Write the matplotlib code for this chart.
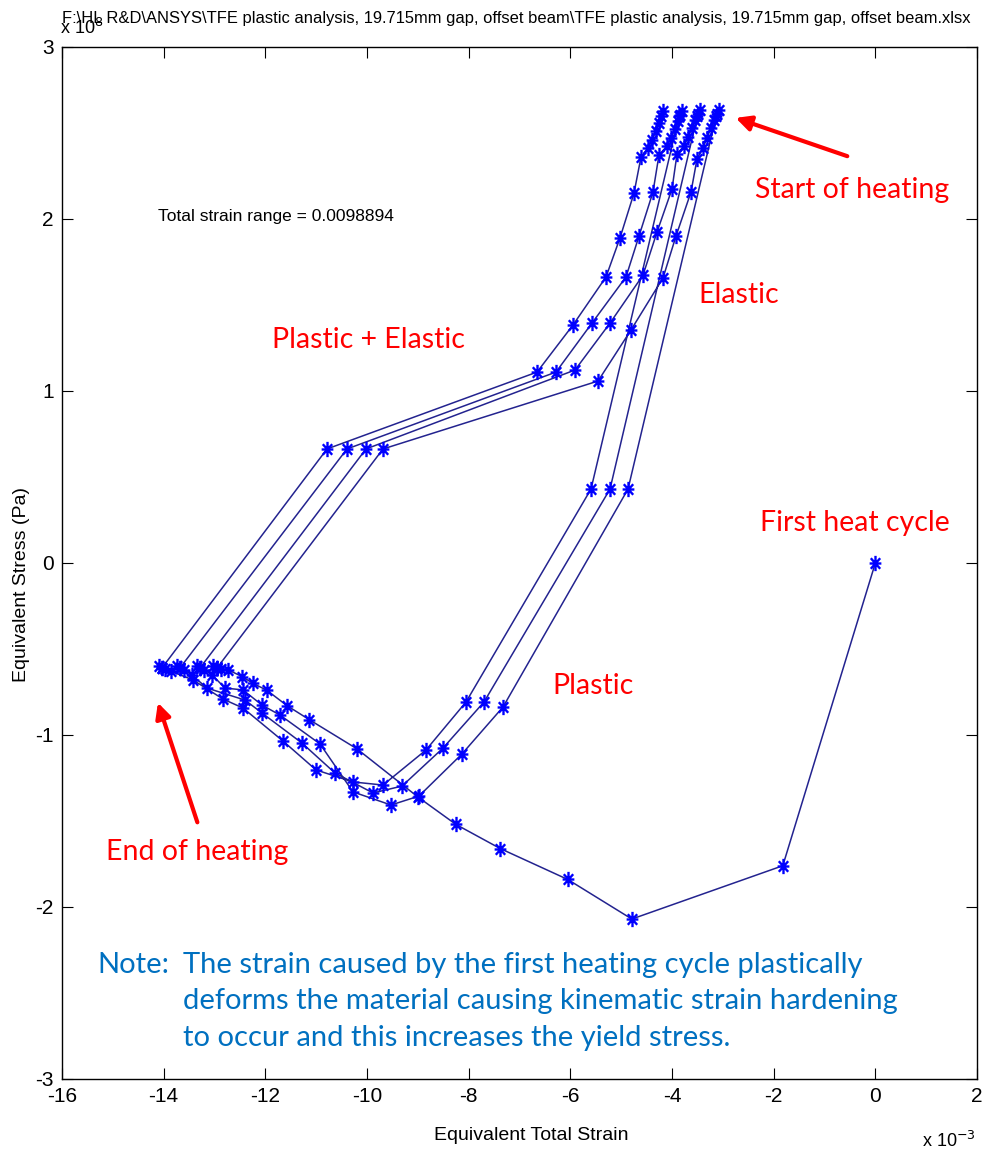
import matplotlib
matplotlib.use("Agg")
import matplotlib.pyplot as plt
import numpy as np
from matplotlib.path import Path

# strain in 1e-3, stress in 1e8 Pa
# first heating: from zero down to the first end-of-heating point
init_x = [0.0, -1.82, -4.79, -6.05, -7.38, -8.25, -9.00, -10.20, -11.14, -11.57,
          -11.97, -12.24, -12.46, -12.74, -12.87, -12.95, -13.02, -12.95]
init_y = [0.0, -1.76, -2.07, -1.84, -1.66, -1.52, -1.36, -1.08, -0.91, -0.83,
          -0.74, -0.70, -0.66, -0.62, -0.615, -0.61, -0.60, -0.61]

# cooling branches (plastic + elastic), last one is cool1
cool4_x = [-9.685, -5.455, -4.806, -4.177, -3.921, -3.626, -3.508, -3.390, -3.312, -3.233, -3.174, -3.115, -3.076]
cool4_y = [0.663, 1.058, 1.355, 1.657, 1.901, 2.157, 2.349, 2.413, 2.471, 2.529, 2.576, 2.610, 2.634]
cool3_x = [-10.020, -5.908, -5.219, -4.570, -4.295, -4.000, -3.901, -3.763, -3.684, -3.606, -3.547, -3.488, -3.449]
cool3_y = [0.663, 1.122, 1.395, 1.674, 1.924, 2.174, 2.378, 2.424, 2.477, 2.529, 2.576, 2.610, 2.634]
cool2_x = [-10.394, -6.282, -5.574, -4.905, -4.649, -4.374, -4.256, -4.098, -4.019, -3.941, -3.882, -3.842, -3.803]
cool2_y = [0.663, 1.110, 1.395, 1.663, 1.901, 2.157, 2.372, 2.424, 2.471, 2.523, 2.570, 2.605, 2.628]
cool1_x = [-10.787, -6.655, -5.947, -5.298, -5.023, -4.747, -4.610, -4.472, -4.393, -4.315, -4.256, -4.216, -4.177]
cool1_y = [0.663, 1.110, 1.384, 1.663, 1.890, 2.151, 2.360, 2.413, 2.459, 2.512, 2.558, 2.599, 2.628]

# heating branches (elastic then plastic)
heatC_x = [-3.13, -4.865, -7.324, -8.131, -8.977, -9.528, -10.275, -10.924, -11.712,
           -12.066, -12.440, -12.794, -13.05, -13.20, -13.285, -13.35, -13.285]
heatC_y = [2.60, 0.430, -0.837, -1.110, -1.355, -1.407, -1.331, -1.052, -0.884,
           -0.826, -0.738, -0.727, -0.65, -0.62, -0.61, -0.60, -0.61]
heatB_x = [-3.50, -5.219, -7.698, -8.505, -9.311, -9.882, -10.630, -11.279, -12.066,
           -12.400, -13.148, -13.45, -13.60, -13.679, -13.74, -13.679]
heatB_y = [2.60, 0.430, -0.808, -1.076, -1.297, -1.337, -1.221, -1.047, -0.872,
           -0.797, -0.727, -0.65, -0.62, -0.61, -0.60, -0.61]
heatA_x = [-3.86, -5.593, -8.052, -8.839, -9.685, -10.275, -11.003, -11.653, -12.440,
           -12.833, -13.423, -13.85, -13.97, -14.033, -14.10, -14.033]
heatA_y = [2.60, 0.430, -0.808, -1.087, -1.291, -1.273, -1.203, -1.035, -0.843,
           -0.791, -0.680, -0.63, -0.615, -0.61, -0.60, -0.61]

strain = np.concatenate([init_x, cool4_x, heatC_x, cool3_x, heatB_x, cool2_x, heatA_x, cool1_x])
stress = np.concatenate([init_y, cool4_y, heatC_y, cool3_y, heatB_y, cool2_y, heatA_y, cool1_y])

plt.rcParams["font.family"] = ["Liberation Sans", "DejaVu Sans"]
plt.rcParams["axes.unicode_minus"] = False

# matlab style asterisk
star = Path([(-1, 0), (1, 0), (0, -1.3), (0, 1.3), (-0.8, -0.9), (0.8, 0.9), (-0.8, 0.9), (0.8, -0.9)],
            [Path.MOVETO, Path.LINETO] * 4)

fig = plt.figure(figsize=(9.9, 11.58), dpi=100)
ax = fig.add_axes([62 / 990, 79 / 1158, 915 / 990, 1032 / 1158])
ax.plot(strain, stress, "-", color="#23238f", lw=1.1, zorder=2)
ax.plot(strain, stress, ls="none", marker=star, ms=11, mec="#0000ff", mew=1.7, zorder=3)
ax.set_xlim(-16, 2)
ax.set_ylim(-3, 3)
ax.set_xticks(range(-16, 3, 2))
ax.set_yticks(range(-3, 4))
ax.tick_params(direction="in", length=8, width=0.8, top=True, right=True, labelsize=15, pad=6)
for s in ax.spines.values():
    s.set_linewidth(1.0)

fig.text(22 / 990, 1 - 584 / 1158, "Equivalent Stress (Pa)", rotation=90, ha="center", va="center", fontsize=14)
fig.text(531 / 990, 1 - 1135 / 1158, "Equivalent Total Strain", ha="center", va="center", fontsize=14)
fig.text(976 / 990, 1 - 1141 / 1158, "x 10$^{-3}$", ha="right", va="center", fontsize=13)
fig.text(60 / 990, 1 - 28 / 1158, "x 10$^{8}$", ha="left", va="center", fontsize=13)
fig.text(516 / 990, 1 - 18 / 1158,
         r"F:\HL R&D\ANSYS\TFE plastic analysis, 19.715mm gap, offset beam\TFE plastic analysis, 19.715mm gap, offset beam.xlsx",
         ha="center", va="center", fontsize=11.9)
ax.text(-14.11, 2.017, "Total strain range = 0.0098894", ha="left", va="center", fontsize=12.5)

red = "#ff0000"
lab = dict(color=red, fontsize=20.5, family="Lato", ha="center", va="center")
ax.text(-0.46, 2.169, "Start of heating", **lab)
ax.text(-2.68, 1.558, "Elastic", **lab)
ax.text(-9.98, 1.297, "Plastic + Elastic", **lab)
ax.text(-0.40, 0.233, "First heat cycle", **lab)
ax.text(-5.56, -0.715, "Plastic", **lab)
ax.text(-13.35, -1.68, "End of heating", **lab)

arr = dict(arrowstyle="-|>,head_length=0.9,head_width=0.45", color=red, lw=3)
ax.annotate("", xy=(-2.80, 2.593), xytext=(-0.50, 2.36), arrowprops=arr)
ax.annotate("", xy=(-14.13, -0.797), xytext=(-13.32, -1.523), arrowprops=arr)

note = dict(color="#0070c0", fontsize=21, family="Lato", ha="left", va="center")
ax.text(-15.30, -2.337, "Note:", **note)
ax.text(-13.62, -2.337, "The strain caused by the first heating cycle plastically", **note)
ax.text(-13.62, -2.547, "deforms the material causing kinematic strain hardening", **note)
ax.text(-13.62, -2.762, "to occur and this increases the yield stress.", **note)

fig.savefig("out.png", dpi=100)
